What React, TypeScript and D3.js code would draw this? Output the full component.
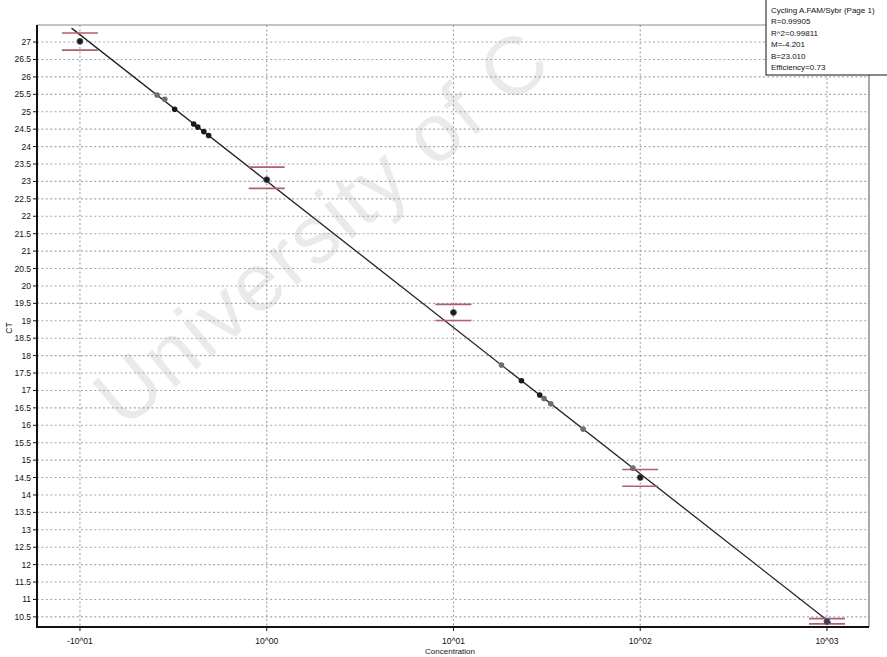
import * as d3 from 'd3'

// standard curve (log10 concentration, Ct, error bar limits)
const stdLog = [-1, 0, 1, 2, 3]
const stdCt = [27.02, 23.05, 19.24, 14.5, 10.37]
const stdHi = [27.26, 23.41, 19.47, 14.73, 10.45]
const stdLo = [26.77, 22.8, 19.01, 14.25, 10.3]

// unknown samples
const unkLog = [-0.587, -0.546, -0.493, -0.391, -0.369, -0.337, -0.311, 1.257, 1.364, 1.462, 1.485, 1.521, 1.694, 1.961]
const unkCt = [25.48, 25.36, 25.07, 24.65, 24.56, 24.43, 24.32, 17.73, 17.28, 16.87, 16.77, 16.62, 15.89, 14.77]
const unkDark = [false, false, true, true, true, true, true, false, true, true, false, false, false, false]

const slope = -4.201
const intercept = 23.01
const fitRange = [-1.045, 3.02]

const yTicks = d3.range(10.5, 27.01, 0.5)
const xTickExp = [-1, 0, 1, 2, 3]
const xTickLabels = ['-10^01', '10^00', '10^01', '10^02', '10^03']

const legendLines = [
  'Cycling A.FAM/Sybr (Page 1)',
  'R=0.99905',
  'R^2=0.99811',
  'M=-4.201',
  'B=23.010',
  'Efficiency=0.73',
]

const W = 887
const H = 657
const left = 37
const right = 869
const top = 25
const bottom = 627

export default function App() {
  const x = d3.scaleLog().domain([Math.pow(10, -1.23), Math.pow(10, 3.225)]).range([left, right])
  const y = d3.scaleLinear().domain([10.21, 27.49]).range([bottom, top])
  const xl = (e: number) => x(Math.pow(10, e))

  const fit = d3.line<number>().x(e => xl(e)).y(e => y(slope * e + intercept))

  const font = '"Liberation Sans", Arial, sans-serif'
  const errColor = '#b0606c'

  return (
    <svg width={W} height={H} style={{ position: 'absolute', left: 0, top: 0, background: '#fff' }} fontFamily={font}>
      <rect width={W} height={H} fill="#fff" />

      {/* grid */}
      {yTicks.map(t => (
        <line key={'gy' + t} x1={left} x2={right} y1={y(t)} y2={y(t)}
          stroke="#a4a4bc" strokeWidth={1.1} strokeDasharray="2 2.4" />
      ))}
      {xTickExp.map(e => (
        <line key={'gx' + e} x1={xl(e)} x2={xl(e)} y1={top} y2={bottom}
          stroke="#9c9cb4" strokeWidth={1.1} strokeDasharray="2 2.4" />
      ))}

      {/* frame */}
      <line x1={left} x2={right} y1={top} y2={top} stroke="#8a8a8a" strokeWidth={1} />
      <line x1={right} x2={right} y1={top} y2={bottom} stroke="#555" strokeWidth={1} />
      <line x1={left} x2={left} y1={top} y2={bottom + 1} stroke="#111" strokeWidth={2} />
      <line x1={left - 1} x2={right} y1={bottom} y2={bottom} stroke="#111" strokeWidth={2} />

      {/* y ticks */}
      {yTicks.map(t => (
        <g key={'ty' + t} transform={`translate(${left},${y(t)})`}>
          <line x1={-4} x2={0} stroke="#111" strokeWidth={1} />
          <text x={-6} dy="0.35em" textAnchor="end" fontSize={8.5} fill="#111">{String(t)}</text>
        </g>
      ))}
      <text transform={`translate(12,${(top + bottom) / 2 + 2}) rotate(-90)`} textAnchor="middle"
        fontSize={8.5} fill="#111">CT</text>

      {/* x ticks */}
      {xTickExp.map((e, i) => (
        <g key={'tx' + e} transform={`translate(${xl(e)},${bottom})`}>
          <line y1={0} y2={4} stroke="#111" strokeWidth={1} />
          <text y={17} textAnchor="middle" fontSize={8.5} fill="#111">{xTickLabels[i]}</text>
        </g>
      ))}
      <text x={450} y={654} textAnchor="middle" fontSize={8} fill="#111">Concentration</text>

      {/* fitted line */}
      <path d={fit(fitRange) || ''} fill="none" stroke="#222" strokeWidth={1.3} />

      {/* error bars */}
      {stdLog.map((e, i) => (
        <g key={'eb' + e}>
          <line x1={xl(e) - 18} x2={xl(e) + 18} y1={y(stdHi[i])} y2={y(stdHi[i])} stroke={errColor} strokeWidth={1.6} />
          <line x1={xl(e) - 18} x2={xl(e) + 18} y1={y(stdLo[i])} y2={y(stdLo[i])} stroke={errColor} strokeWidth={1.6} />
        </g>
      ))}

      {/* unknowns */}
      {unkLog.map((e, i) => (
        <circle key={'u' + i} cx={xl(e)} cy={y(unkCt[i])} r={2.8}
          fill={unkDark[i] ? '#1a1a1a' : '#6e6e6e'} />
      ))}

      {/* standards */}
      {stdLog.map((e, i) => (
        <circle key={'s' + e} cx={xl(e)} cy={y(stdCt[i])} r={3}
          fill={i === 4 ? '#3a3a5a' : '#1a1a1a'} stroke="#555" strokeWidth={0.8} />
      ))}

      {/* legend */}
      <rect x={766} y={-1} width={130} height={76} fill="#fff" stroke="#111" strokeWidth={1} />
      {legendLines.map((s, i) => (
        <text key={'lg' + i} x={771} y={13 + i * 11.4} fontSize={8} fill="#111">{s}</text>
      ))}

      {/* watermark */}
      <text transform="translate(124,430) rotate(-40)" fontSize={82} letterSpacing={2} fill="#9a9a9a" opacity={0.2}>
        University of C
      </text>
    </svg>
  )
}
